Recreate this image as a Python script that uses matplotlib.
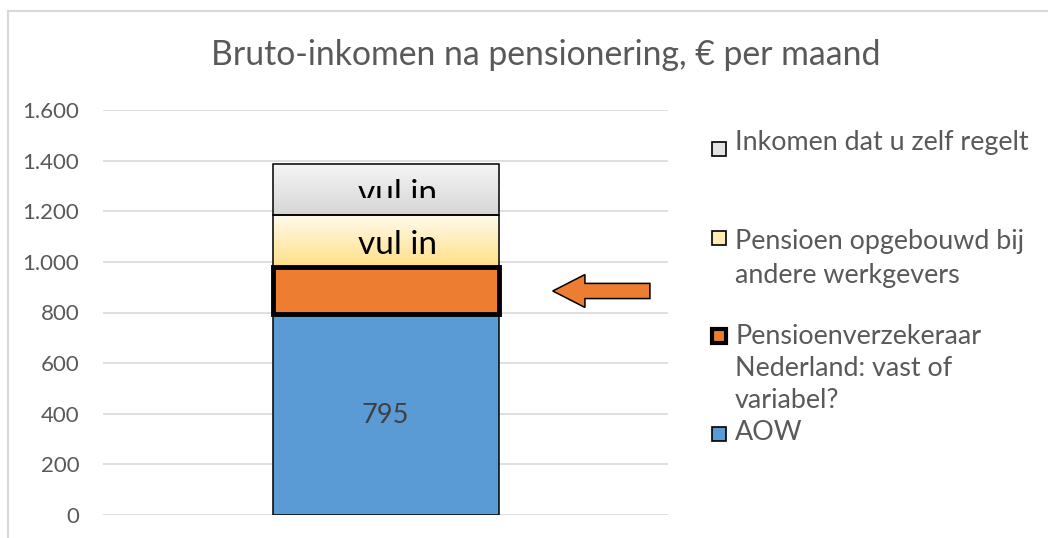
import numpy as np
import matplotlib
matplotlib.use("Agg")
import matplotlib.pyplot as plt
from matplotlib.patches import Rectangle, FancyArrow
from matplotlib.lines import Line2D
from matplotlib.colors import LinearSegmentedColormap
from matplotlib.transforms import Bbox, TransformedBbox

plt.rcParams['font.family'] = ['Lato', 'DejaVu Sans']

# data, stacked bottom to top
series = ['AOW', 'Pensioenverzekeraar Nederland: vast of variabel?',
          'Pensioen opgebouwd bij andere werkgevers', 'Inkomen dat u zelf regelt']
values = [795, 185, 205, 200]
seg_labels = ['795', '', 'vul in', 'vul in']
yticks = [0, 200, 400, 600, 800, 1000, 1200, 1400, 1600]
ytick_labels = ['0', '200', '400', '600', '800', '1.000', '1.200', '1.400', '1.600']
arrow_y = 885

W, H = 1048, 538
fig = plt.figure(figsize=(W / 100, H / 100), dpi=100)
fig.patch.set_facecolor('white')

def fx(px):
    return px / W

def fy(py):
    return 1 - py / H

ax = fig.add_axes([fx(103), fy(515), fx(668) - fx(103), fy(110) - fy(515)])
ax.set_xlim(-0.5, 0.5)
ax.set_ylim(0, 1600)
for s in ax.spines.values():
    s.set_visible(False)
ax.set_yticks(yticks)
ax.set_yticklabels(ytick_labels)
ax.tick_params(axis='y', length=0, pad=17, labelsize=16, labelcolor='#595959')
ax.set_xticks([])
ax.grid(axis='y', color='#D9D9D9', lw=1.2)
ax.set_axisbelow(True)

# gradient segments: (top colour, bottom colour)
grads = {2: ('#FFFAEC', '#FFDF85'), 3: ('#F5F5F5', '#D6D6D6')}
face = {0: '#5B9BD5', 1: '#ED7D31'}

bw = 0.4
bottom = 0
for i, v in enumerate(values):
    if i in face:
        fc = face[i]
    else:
        fc = 'none'
    lw = 3.5 if i == 1 else 1.1
    bars = ax.bar(0, v, width=bw, bottom=bottom, color=fc, edgecolor='black',
                  linewidth=lw, zorder=3 if i != 1 else 4)
    if i in grads:
        top_c, bot_c = grads[i]
        cmap = LinearSegmentedColormap.from_list('g', [bot_c, top_c])
        g = np.linspace(0, 1, 100).reshape(-1, 1)
        im = ax.imshow(g, cmap=cmap, extent=[-bw / 2, bw / 2, bottom, bottom + v],
                       origin='lower', aspect='auto', zorder=2)
        im.set_clip_path(bars[0])
    mid = bottom + v / 2
    if seg_labels[i] == '795':
        ax.text(0, mid - 6, seg_labels[i], ha='center', va='center',
                fontsize=19.5, color='#404040', zorder=5)
    elif seg_labels[i]:
        # baseline sits a bit below the middle of the segment
        t = ax.text(0.022, mid - 52, seg_labels[i],
                    ha='center', va='baseline', fontsize=24, color='black', zorder=5)
        if i == 3:
            # top label is cut off in the original
            t.set_clip_on(True)
            t.set_clip_box(TransformedBbox(Bbox([[-0.5, 1253], [0.5, 1600]]), ax.transData))
    bottom += v

ax.set_xlim(-0.5, 0.5)
ax.set_ylim(0, 1600)

# arrow pointing at the orange segment
ax.add_patch(FancyArrow(0.468, arrow_y, -0.172, 0, width=60, head_width=130,
                        head_length=0.057, length_includes_head=True,
                        facecolor='#ED7D31', edgecolor='black', lw=1.1, zorder=5))

fig.text(fx(546), fy(55), 'Bruto-inkomen na pensionering, € per maand',
         ha='center', va='center', fontsize=24.3, color='#595959')

# legend drawn by hand
sq = 14
legend_items = [
    (149, 'grad3', [(142, 'Inkomen dat u zelf regelt')]),
    (238, 'grad2', [(242, 'Pensioen opgebouwd bij'), (275, 'andere werkgevers')]),
    (336, 'orange', [(337, 'Pensioenverzekeraar'), (369, 'Nederland: vast of'), (400, 'variabel?')]),
    (434, 'blue', [(432, 'AOW')]),
]
for cy, kind, lines in legend_items:
    if kind == 'grad3':
        fc, lw = '#E4E4E4', 1.2
    elif kind == 'grad2':
        fc, lw = '#FFEDB5', 1.2
    elif kind == 'orange':
        fc, lw = '#ED7D31', 3.0
    else:
        fc, lw = '#5B9BD5', 1.2
    fig.patches.append(Rectangle((fx(712), fy(cy + sq / 2)), fx(sq), sq / H,
                                 transform=fig.transFigure, facecolor=fc,
                                 edgecolor='black', lw=lw))
    for py, txt in lines:
        fig.text(fx(735), fy(py), txt, ha='left', va='center', fontsize=19.4, color='#595959')

# outer chart frame (partly cropped)
fig.add_artist(Line2D([fx(8), 1], [fy(11), fy(11)], color='#D9D9D9', lw=1.5))
fig.add_artist(Line2D([fx(8), fx(8)], [fy(11), 0], color='#D9D9D9', lw=1.5))

fig.savefig('out.png', dpi=100)
